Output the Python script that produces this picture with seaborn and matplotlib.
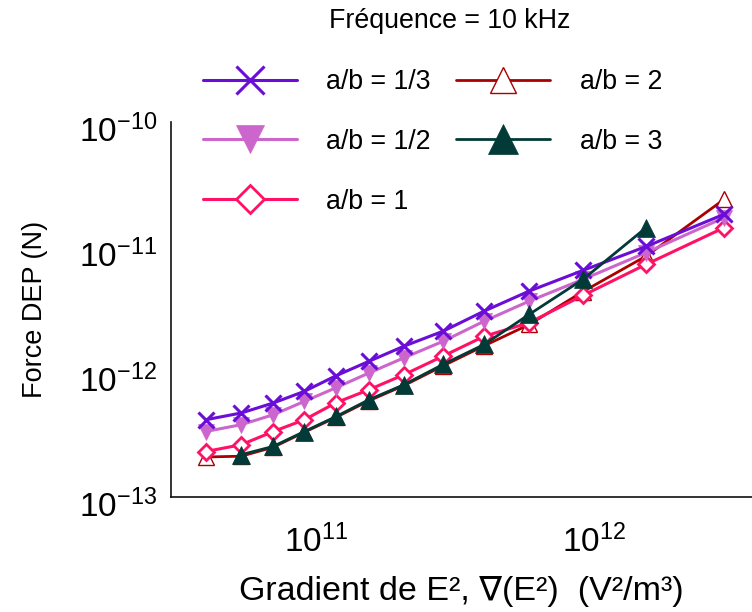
import numpy as np
import pandas as pd
import seaborn as sns
import matplotlib.pyplot as plt
from matplotlib.ticker import LogLocator, NullFormatter
from matplotlib.transforms import ScaledTranslation

# Gradient de E^2 (V^2/m^3)
grad = [4.0e10, 5.37e10, 7.0e10, 9.06e10, 1.18e11, 1.55e11, 2.07e11,
        2.86e11, 4.02e11, 5.84e11, 9.12e11, 1.54e12, 2.94e12]

# Force DEP (N) pour chaque rapport a/b
f_1_3 = [4.15e-13, 4.70e-13, 5.65e-13, 7.0e-13, 9.35e-13, 1.22e-12, 1.61e-12,
         2.12e-12, 3.07e-12, 4.44e-12, 6.5e-12, 1.01e-11, 1.83e-11]
f_1_2 = [3.34e-13, 3.79e-13, 4.55e-13, 5.82e-13, 7.5e-13, 9.84e-13, 1.30e-12,
         1.76e-12, 2.55e-12, 3.69e-12, 5.51e-12, 9.02e-12, 1.72e-11]
f_1 = [2.31e-13, 2.62e-13, 3.34e-13, 4.15e-13, 5.69e-13, 7.23e-13, 9.53e-13,
       1.34e-12, 1.93e-12, 2.48e-12, 4.10e-12, 7.27e-12, 1.43e-11]
f_2 = [2.09e-13, 2.12e-13, 2.5e-13, 3.3e-13, 4.35e-13, 5.9e-13, 7.8e-13,
       1.12e-12, 1.62e-12, 2.4e-12, 4.4e-12, 8.47e-12, 2.41e-11]
f_3 = [np.nan, 2.18e-13, 2.54e-13, 3.34e-13, 4.41e-13, 6.01e-13, 7.92e-13,
       1.15e-12, 1.66e-12, 2.89e-12, 5.51e-12, 1.43e-11, np.nan]

labels = ["a/b = 1/3", "a/b = 1/2", "a/b = 1", "a/b = 2", "a/b = 3"]
series = [f_1_3, f_1_2, f_1, f_2, f_3]

# style de chaque courbe
styles = [
    dict(color="#6a0dd6", marker="x", markersize=12, markeredgewidth=2.2,
         markerfacecolor="#6a0dd6", markeredgecolor="#6a0dd6", linewidth=2.2),
    dict(color="#cc66cc", marker="v", markersize=12, markeredgewidth=0.5,
         markerfacecolor="#cc66cc", markeredgecolor="#cc66cc", linewidth=2.2),
    dict(color="#ff1166", marker="D", markersize=8.5, markeredgewidth=2.0,
         markerfacecolor="white", markeredgecolor="#ff1166", linewidth=2.2),
    dict(color="#aa0000", marker="^", markersize=11, markeredgewidth=1.0,
         markerfacecolor="white", markeredgecolor="#aa0000", linewidth=2.0),
    dict(color="#013a36", marker="^", markersize=13, markeredgewidth=0.5,
         markerfacecolor="#013a36", markeredgecolor="#013a36", linewidth=2.0),
]
# ordre de superposition (a/b = 3 au-dessus)
draw_order = [3, 2, 1, 0, 4]

sns.set_style("white")
plt.rcParams["font.family"] = ["Liberation Sans", "DejaVu Sans"]
plt.rcParams["mathtext.fontset"] = "custom"
plt.rcParams["mathtext.rm"] = "Liberation Sans"
plt.rcParams["mathtext.it"] = "Liberation Sans"
plt.rcParams["mathtext.bf"] = "Liberation Sans"
for key in ["text.color", "axes.labelcolor", "xtick.color", "ytick.color"]:
    plt.rcParams[key] = "black"

fig = plt.figure(figsize=(7.52, 6.12), dpi=100)
ax = fig.add_axes([171 / 752, 1 - 497 / 612, 1 - 171 / 752, (497 - 122) / 612])

for i in draw_order:
    df = pd.DataFrame({"grad": grad, "force": series[i]}).dropna()
    sns.lineplot(data=df, x="grad", y="force", ax=ax, label=labels[i],
                 sort=False, clip_on=False, **styles[i])

ax.set_xscale("log")
ax.set_yscale("log")
ax.set_xlim(3.0e10, 3.7e12)
ax.set_ylim(1e-13, 1e-10)

ax.set_xticks([1e11, 1e12])
ax.set_yticks([1e-13, 1e-12, 1e-11, 1e-10])
ax.xaxis.set_minor_locator(LogLocator(base=10, subs=np.arange(2, 10), numticks=20))
ax.yaxis.set_minor_locator(LogLocator(base=10, subs=np.arange(2, 10), numticks=20))
ax.xaxis.set_minor_formatter(NullFormatter())
ax.yaxis.set_minor_formatter(NullFormatter())

ax.tick_params(axis="both", which="both", direction="in", length=6, width=1,
               color="#111111", labelcolor="black", labelsize=24)
ax.tick_params(axis="x", which="major", pad=20)
ax.tick_params(axis="y", which="major", pad=10)
# étiquettes de l'axe y un peu plus bas, comme dans l'original
shift = ScaledTranslation(0, -6 / 100, fig.dpi_scale_trans)
for lbl in ax.get_yticklabels():
    lbl.set_transform(lbl.get_transform() + shift)
for s in ["top", "right"]:
    ax.spines[s].set_visible(False)
for s in ["left", "bottom"]:
    ax.spines[s].set_linewidth(1.2)
    ax.spines[s].set_color("#111111")

ax.set_xlabel("Gradient de E², ∇(E²)  (V²/m³)", fontsize=24.5, labelpad=12)
ax.set_ylabel("Force DEP (N)", fontsize=19.5, labelpad=22)

handles, labs = ax.get_legend_handles_labels()
order = [labs.index(l) for l in labels]
leg = ax.legend([handles[i] for i in order], [labs[i] for i in order],
                ncol=2, frameon=False, fontsize=19.3, markerscale=1.7,
                handlelength=3.5, handletextpad=1.1, columnspacing=0.95,
                labelspacing=1.26, borderpad=0, borderaxespad=0,
                loc="upper left", bbox_to_anchor=(203 / 752, 1 - 69 / 612),
                bbox_transform=fig.transFigure)

fig.text(450 / 752, 1 - 21 / 612, "Fréquence = 10 kHz", fontsize=19.3,
         ha="center", va="center")

fig.savefig("out.png", dpi=100)
